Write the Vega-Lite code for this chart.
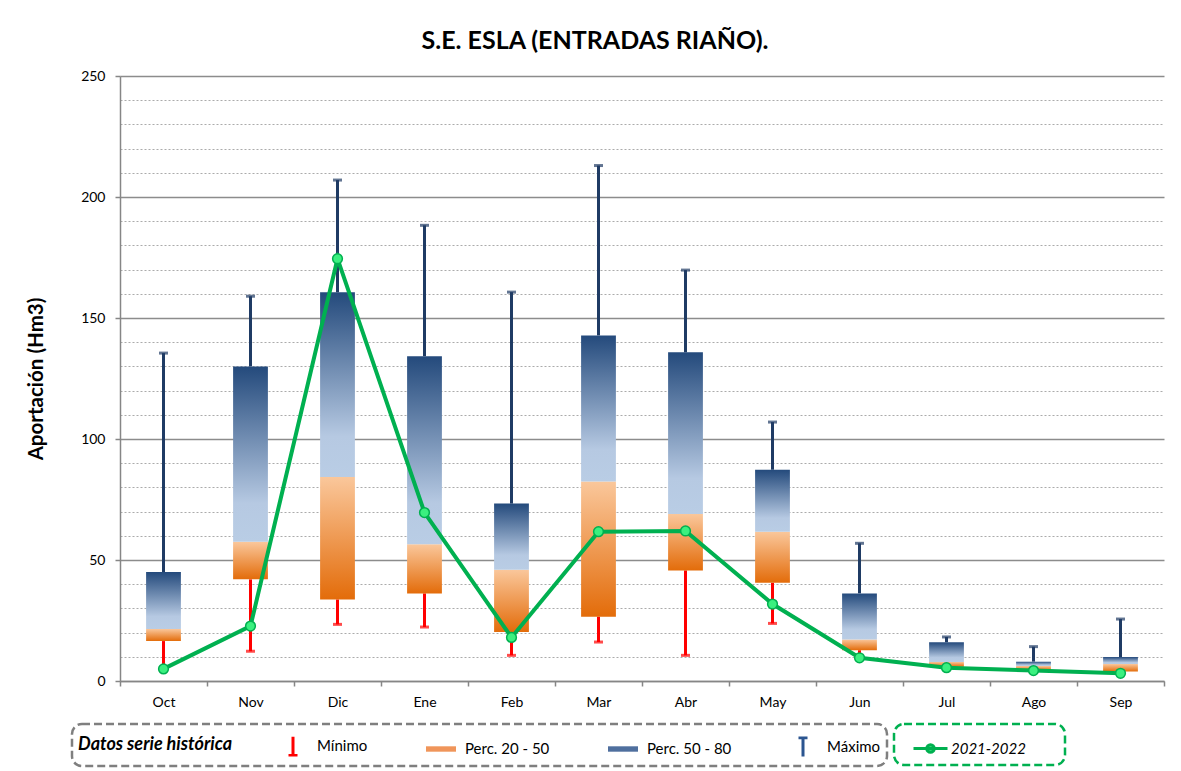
{
  "$schema": "https://vega.github.io/schema/vega-lite/v6.json",
  "width": 1044,
  "height": 605,
  "autosize": {"type": "none"},
  "padding": {"left": 120, "top": 76, "right": 17, "bottom": 90},
  "background": "white",
  "title": {"text": "S.E. ESLA (ENTRADAS RIAÑO).", "fontSize": 25, "fontWeight": "bold", "font": "Lato", "color": "#000000", "anchor": "middle", "dx": -47, "offset": 15},
  "datasets": {
    "hist": [
      {"mes": "Oct", "min": 5, "p20": 16.5, "p50": 21.5, "p80": 45, "max": 135.5, "actual": 5},
      {"mes": "Nov", "min": 12.3, "p20": 42, "p50": 57.5, "p80": 130, "max": 159, "actual": 22.7},
      {"mes": "Dic", "min": 23.4, "p20": 33.7, "p50": 84.3, "p80": 160.6, "max": 207, "actual": 174.5},
      {"mes": "Ene", "min": 22.3, "p20": 36.2, "p50": 56.5, "p80": 134.2, "max": 188.3, "actual": 69.6},
      {"mes": "Feb", "min": 10.6, "p20": 20.2, "p50": 46, "p80": 73.3, "max": 160.7, "actual": 18},
      {"mes": "Mar", "min": 16.1, "p20": 26.6, "p50": 82.4, "p80": 142.8, "max": 213, "actual": 61.7},
      {"mes": "Abr", "min": 10.6, "p20": 45.7, "p50": 69, "p80": 135.8, "max": 169.8, "actual": 62},
      {"mes": "May", "min": 23.8, "p20": 40.6, "p50": 61.7, "p80": 87.3, "max": 107, "actual": 31.8},
      {"mes": "Jun", "min": 9.6, "p20": 12.7, "p50": 17.2, "p80": 36.2, "max": 56.9, "actual": 9.6},
      {"mes": "Jul", "min": 5, "p20": 5.9, "p50": 7.9, "p80": 16, "max": 18.2, "actual": 5.5},
      {"mes": "Ago", "min": 4, "p20": 4.5, "p50": 6.2, "p80": 8, "max": 14.2, "actual": 4.3},
      {"mes": "Sep", "min": 3, "p20": 3.9, "p50": 7, "p80": 9.9, "max": 25.6, "actual": 3.2}
    ],
    "leg": [
      {"item": "Mínimo"},
      {"item": "Perc. 20 - 50"},
      {"item": "Perc. 50 - 80"},
      {"item": "Máximo"}
    ]
  },
  "data": {"name": "hist"},
  "encoding": {
    "x": {
      "field": "mes", "type": "nominal", "sort": null,
      "scale": {"domain": ["Oct","Nov","Dic","Ene","Feb","Mar","Abr","May","Jun","Jul","Ago","Sep"], "paddingInner": 0, "paddingOuter": 0},
      "axis": {"title": null, "tickBand": "extent", "tickSize": 5, "tickColor": "#868686", "tickWidth": 1.5, "domainColor": "#868686", "domainWidth": 1.5, "labelFontSize": 14, "labelColor": "#000000", "labelPadding": 9, "labelAngle": 0, "grid": false}
    }
  },
  "layer": [
    {
      "mark": {"type": "rule", "color": "#FF0000", "strokeWidth": 3},
      "encoding": {
        "y": {
          "field": "min", "type": "quantitative", "title": "Aportación (Hm3)",
          "scale": {"domain": [0, 250], "nice": false},
          "axis": {
            "values": [0,10,20,30,40,50,60,70,80,90,100,110,120,130,140,150,160,170,180,190,200,210,220,230,240,250],
            "labelOverlap": false, "grid": true,
            "gridColor": {"condition": {"test": "datum.value % 50 === 0", "value": "#8C8C8C"}, "value": "#ABABAB"},
            "gridDash": {"condition": {"test": "datum.value % 50 === 0", "value": []}, "value": [2, 2]},
            "gridWidth": {"condition": {"test": "datum.value % 50 === 0", "value": 1.5}, "value": 1},
            "labelExpr": "datum.value % 50 === 0 ? datum.label : ''",
            "tickOpacity": {"condition": {"test": "datum.value % 50 === 0", "value": 1}, "value": 0},
            "tickSize": 5, "tickColor": "#868686", "tickWidth": 1.5, "domainColor": "#868686", "domainWidth": 1.5,
            "labelFontSize": 14, "labelColor": "#000000", "labelPadding": 10,
            "titleFontSize": 20.5, "titleFontWeight": "bold", "titleColor": "#000000", "titlePadding": 34
          }
        },
        "y2": {"field": "p20"}
      }
    },
    {
      "mark": {"type": "tick", "color": "#FF0000", "thickness": 3, "size": 9},
      "encoding": {
        "y": {
          "field": "min", "type": "quantitative", "title": "Aportación (Hm3)",
          "axis": {
            "values": [0,10,20,30,40,50,60,70,80,90,100,110,120,130,140,150,160,170,180,190,200,210,220,230,240,250],
            "labelOverlap": false, "grid": true,
            "gridColor": {"condition": {"test": "datum.value % 50 === 0", "value": "#8C8C8C"}, "value": "#ABABAB"},
            "gridDash": {"condition": {"test": "datum.value % 50 === 0", "value": []}, "value": [2, 2]},
            "gridWidth": {"condition": {"test": "datum.value % 50 === 0", "value": 1.5}, "value": 1},
            "labelExpr": "datum.value % 50 === 0 ? datum.label : ''",
            "tickOpacity": {"condition": {"test": "datum.value % 50 === 0", "value": 1}, "value": 0},
            "tickSize": 5, "tickColor": "#868686", "tickWidth": 1.5, "domainColor": "#868686", "domainWidth": 1.5,
            "labelFontSize": 14, "labelColor": "#000000", "labelPadding": 10,
            "titleFontSize": 20.5, "titleFontWeight": "bold", "titleColor": "#000000", "titlePadding": 34
          }
        }
      }
    },
    {
      "mark": {"type": "rule", "color": "#1F3B64", "strokeWidth": 3},
      "encoding": {
        "y": {
          "field": "p80", "type": "quantitative", "title": "Aportación (Hm3)",
          "axis": {
            "values": [0,10,20,30,40,50,60,70,80,90,100,110,120,130,140,150,160,170,180,190,200,210,220,230,240,250],
            "labelOverlap": false, "grid": true,
            "gridColor": {"condition": {"test": "datum.value % 50 === 0", "value": "#8C8C8C"}, "value": "#ABABAB"},
            "gridDash": {"condition": {"test": "datum.value % 50 === 0", "value": []}, "value": [2, 2]},
            "gridWidth": {"condition": {"test": "datum.value % 50 === 0", "value": 1.5}, "value": 1},
            "labelExpr": "datum.value % 50 === 0 ? datum.label : ''",
            "tickOpacity": {"condition": {"test": "datum.value % 50 === 0", "value": 1}, "value": 0},
            "tickSize": 5, "tickColor": "#868686", "tickWidth": 1.5, "domainColor": "#868686", "domainWidth": 1.5,
            "labelFontSize": 14, "labelColor": "#000000", "labelPadding": 10,
            "titleFontSize": 20.5, "titleFontWeight": "bold", "titleColor": "#000000", "titlePadding": 34
          }
        },
        "y2": {"field": "max"}
      }
    },
    {
      "mark": {"type": "tick", "color": "#1F3B64", "thickness": 3, "size": 9},
      "encoding": {
        "y": {
          "field": "max", "type": "quantitative", "title": "Aportación (Hm3)",
          "axis": {
            "values": [0,10,20,30,40,50,60,70,80,90,100,110,120,130,140,150,160,170,180,190,200,210,220,230,240,250],
            "labelOverlap": false, "grid": true,
            "gridColor": {"condition": {"test": "datum.value % 50 === 0", "value": "#8C8C8C"}, "value": "#ABABAB"},
            "gridDash": {"condition": {"test": "datum.value % 50 === 0", "value": []}, "value": [2, 2]},
            "gridWidth": {"condition": {"test": "datum.value % 50 === 0", "value": 1.5}, "value": 1},
            "labelExpr": "datum.value % 50 === 0 ? datum.label : ''",
            "tickOpacity": {"condition": {"test": "datum.value % 50 === 0", "value": 1}, "value": 0},
            "tickSize": 5, "tickColor": "#868686", "tickWidth": 1.5, "domainColor": "#868686", "domainWidth": 1.5,
            "labelFontSize": 14, "labelColor": "#000000", "labelPadding": 10,
            "titleFontSize": 20.5, "titleFontWeight": "bold", "titleColor": "#000000", "titlePadding": 34
          }
        }
      }
    },
    {
      "mark": {
        "type": "bar", "width": {"band": 0.4},
        "fill": {"gradient": "linear", "x1": 0, "y1": 0, "x2": 0, "y2": 1, "stops": [{"offset": 0, "color": "#FAC79B"}, {"offset": 1, "color": "#E36C0A"}]}
      },
      "encoding": {
        "y": {
          "field": "p20", "type": "quantitative", "title": "Aportación (Hm3)",
          "axis": {
            "values": [0,10,20,30,40,50,60,70,80,90,100,110,120,130,140,150,160,170,180,190,200,210,220,230,240,250],
            "labelOverlap": false, "grid": true,
            "gridColor": {"condition": {"test": "datum.value % 50 === 0", "value": "#8C8C8C"}, "value": "#ABABAB"},
            "gridDash": {"condition": {"test": "datum.value % 50 === 0", "value": []}, "value": [2, 2]},
            "gridWidth": {"condition": {"test": "datum.value % 50 === 0", "value": 1.5}, "value": 1},
            "labelExpr": "datum.value % 50 === 0 ? datum.label : ''",
            "tickOpacity": {"condition": {"test": "datum.value % 50 === 0", "value": 1}, "value": 0},
            "tickSize": 5, "tickColor": "#868686", "tickWidth": 1.5, "domainColor": "#868686", "domainWidth": 1.5,
            "labelFontSize": 14, "labelColor": "#000000", "labelPadding": 10,
            "titleFontSize": 20.5, "titleFontWeight": "bold", "titleColor": "#000000", "titlePadding": 34
          }
        },
        "y2": {"field": "p50"}
      }
    },
    {
      "mark": {
        "type": "bar", "width": {"band": 0.4},
        "fill": {"gradient": "linear", "x1": 0, "y1": 0, "x2": 0, "y2": 1, "stops": [{"offset": 0, "color": "#244A7C"}, {"offset": 0.78, "color": "#B6C9E2"}, {"offset": 1, "color": "#B9CDE5"}]}
      },
      "encoding": {
        "y": {
          "field": "p50", "type": "quantitative", "title": "Aportación (Hm3)",
          "axis": {
            "values": [0,10,20,30,40,50,60,70,80,90,100,110,120,130,140,150,160,170,180,190,200,210,220,230,240,250],
            "labelOverlap": false, "grid": true,
            "gridColor": {"condition": {"test": "datum.value % 50 === 0", "value": "#8C8C8C"}, "value": "#ABABAB"},
            "gridDash": {"condition": {"test": "datum.value % 50 === 0", "value": []}, "value": [2, 2]},
            "gridWidth": {"condition": {"test": "datum.value % 50 === 0", "value": 1.5}, "value": 1},
            "labelExpr": "datum.value % 50 === 0 ? datum.label : ''",
            "tickOpacity": {"condition": {"test": "datum.value % 50 === 0", "value": 1}, "value": 0},
            "tickSize": 5, "tickColor": "#868686", "tickWidth": 1.5, "domainColor": "#868686", "domainWidth": 1.5,
            "labelFontSize": 14, "labelColor": "#000000", "labelPadding": 10,
            "titleFontSize": 20.5, "titleFontWeight": "bold", "titleColor": "#000000", "titlePadding": 34
          }
        },
        "y2": {"field": "p80"}
      }
    },
    {
      "mark": {"type": "line", "strokeWidth": 4},
      "encoding": {
        "y": {
          "field": "actual", "type": "quantitative", "title": "Aportación (Hm3)",
          "axis": {
            "values": [0,10,20,30,40,50,60,70,80,90,100,110,120,130,140,150,160,170,180,190,200,210,220,230,240,250],
            "labelOverlap": false, "grid": true,
            "gridColor": {"condition": {"test": "datum.value % 50 === 0", "value": "#8C8C8C"}, "value": "#ABABAB"},
            "gridDash": {"condition": {"test": "datum.value % 50 === 0", "value": []}, "value": [2, 2]},
            "gridWidth": {"condition": {"test": "datum.value % 50 === 0", "value": 1.5}, "value": 1},
            "labelExpr": "datum.value % 50 === 0 ? datum.label : ''",
            "tickOpacity": {"condition": {"test": "datum.value % 50 === 0", "value": 1}, "value": 0},
            "tickSize": 5, "tickColor": "#868686", "tickWidth": 1.5, "domainColor": "#868686", "domainWidth": 1.5,
            "labelFontSize": 14, "labelColor": "#000000", "labelPadding": 10,
            "titleFontSize": 20.5, "titleFontWeight": "bold", "titleColor": "#000000", "titlePadding": 34
          }
        },
        "stroke": {
          "datum": "2021-2022", "type": "nominal",
          "scale": {"range": ["#00B050"]},
          "legend": {
            "orient": "none", "legendX": 774, "legendY": 648,
            "title": "\u00a0", "titleOrient": "right", "titlePadding": 33,
            "symbolType": "M-1,0H1M-0.22,0A0.22,0.22 0 1,0 0.22,0A0.22,0.22 0 1,0 -0.22,0Z",
            "symbolSize": 1156, "symbolStrokeWidth": 3, "symbolFillColor": "#3BF07F", "symbolOffset": 12,
            "strokeColor": "#00B050", "labelFontStyle": "italic", "labelOffset": 2
          }
        }
      }
    },
    {
      "mark": {"type": "point", "filled": true, "fill": "#3BF07F", "stroke": "#00B050", "strokeWidth": 1.5, "size": 95, "opacity": 1},
      "encoding": {
        "y": {
          "field": "actual", "type": "quantitative", "title": "Aportación (Hm3)",
          "axis": {
            "values": [0,10,20,30,40,50,60,70,80,90,100,110,120,130,140,150,160,170,180,190,200,210,220,230,240,250],
            "labelOverlap": false, "grid": true,
            "gridColor": {"condition": {"test": "datum.value % 50 === 0", "value": "#8C8C8C"}, "value": "#ABABAB"},
            "gridDash": {"condition": {"test": "datum.value % 50 === 0", "value": []}, "value": [2, 2]},
            "gridWidth": {"condition": {"test": "datum.value % 50 === 0", "value": 1.5}, "value": 1},
            "labelExpr": "datum.value % 50 === 0 ? datum.label : ''",
            "tickOpacity": {"condition": {"test": "datum.value % 50 === 0", "value": 1}, "value": 0},
            "tickSize": 5, "tickColor": "#868686", "tickWidth": 1.5, "domainColor": "#868686", "domainWidth": 1.5,
            "labelFontSize": 14, "labelColor": "#000000", "labelPadding": 10,
            "titleFontSize": 20.5, "titleFontWeight": "bold", "titleColor": "#000000", "titlePadding": 34
          }
        }
      }
    },
    {
      "data": {"name": "leg"},
      "mark": {"type": "point", "filled": true, "clip": true, "opacity": 1},
      "encoding": {
        "x": {"datum": "Oct"},
        "y": {
          "datum": -500, "type": "quantitative", "title": "Aportación (Hm3)",
          "axis": {
            "values": [0,10,20,30,40,50,60,70,80,90,100,110,120,130,140,150,160,170,180,190,200,210,220,230,240,250],
            "labelOverlap": false, "grid": true,
            "gridColor": {"condition": {"test": "datum.value % 50 === 0", "value": "#8C8C8C"}, "value": "#ABABAB"},
            "gridDash": {"condition": {"test": "datum.value % 50 === 0", "value": []}, "value": [2, 2]},
            "gridWidth": {"condition": {"test": "datum.value % 50 === 0", "value": 1.5}, "value": 1},
            "labelExpr": "datum.value % 50 === 0 ? datum.label : ''",
            "tickOpacity": {"condition": {"test": "datum.value % 50 === 0", "value": 1}, "value": 0},
            "tickSize": 5, "tickColor": "#868686", "tickWidth": 1.5, "domainColor": "#868686", "domainWidth": 1.5,
            "labelFontSize": 14, "labelColor": "#000000", "labelPadding": 10,
            "titleFontSize": 20.5, "titleFontWeight": "bold", "titleColor": "#000000", "titlePadding": 34
          }
        },
        "fill": {
          "field": "item", "type": "nominal", "sort": null,
          "scale": {"domain": ["Mínimo", "Perc. 20 - 50", "Perc. 50 - 80", "Máximo"], "range": ["#FF0000", "#F0955A", "#4F6F9E", "#2B5590"]},
          "legend": {
            "orient": "none", "legendX": -48, "legendY": 648, "direction": "horizontal",
            "title": "Datos serie histórica", "titleOrient": "left", "titleFontStyle": "italic", "titleFontWeight": "bold", "titleFontSize": 18, "titleColor": "#000000", "titlePadding": 44,
            "columnPadding": 55, "symbolSize": 900, "symbolOpacity": 1, "strokeColor": "#7F7F7F", "labelOffset": 8
          }
        },
        "shape": {
          "field": "item", "type": "nominal", "sort": null,
          "scale": {"domain": ["Mínimo", "Perc. 20 - 50", "Perc. 50 - 80", "Máximo"], "range": [
            "M-0.1,-0.65H0.1V0.5H0.3V0.68H-0.3V0.5H-0.1Z",
            "M-1,-0.18H1V0.18H-1Z",
            "M-1,-0.18H1V0.18H-1Z",
            "M-0.3,-0.68H0.3V-0.5H0.1V0.65H-0.1V-0.5H-0.3Z"
          ]}
        }
      }
    }
  ],
  "config": {
    "font": "Lato",
    "view": {"stroke": null},
    "legend": {"strokeDash": [8, 4], "strokeWidth": 2.5, "cornerRadius": 10, "labelFontSize": 15, "labelColor": "#000000", "padding": 6}
  }
}
